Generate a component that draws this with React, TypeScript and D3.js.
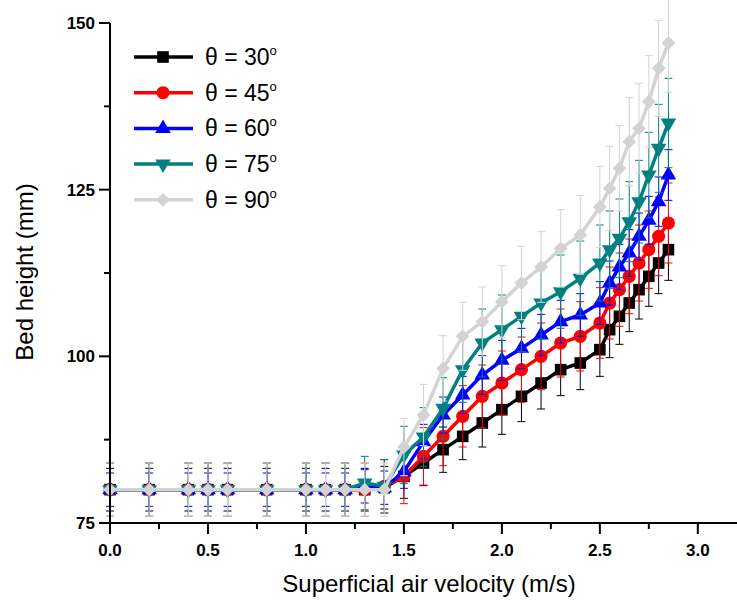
import { useEffect, useRef } from 'react'
import * as d3 from 'd3'

// superficial air velocity (m/s)
const velocity = [0, 0.2, 0.4, 0.5, 0.6, 0.8, 1.0, 1.1, 1.2, 1.3, 1.4, 1.5, 1.6, 1.7, 1.8, 1.9, 2.0, 2.1, 2.2, 2.3, 2.4, 2.5, 2.55, 2.6, 2.65, 2.7, 2.75, 2.8, 2.85]

// bed height (mm) per angle
const h30 = [80, 80, 80, 80, 80, 80, 80, 80, 80, 80, 80.3, 82, 84, 86, 88, 90, 92, 94, 96, 98, 99, 101, 104, 106, 108, 110, 112, 114, 116]
const h45 = [80, 80, 80, 80, 80, 80, 80, 80, 80, 80, 80.5, 82, 85, 88, 91, 94, 96, 98, 100, 102, 103, 105, 108, 110, 112, 114, 116, 118, 120]
const h60 = [80, 80, 80, 80, 80, 80, 80, 80, 80, 80.5, 80.3, 82.7, 87.2, 91.2, 94.2, 97.2, 99.4, 101.2, 103.2, 105.2, 106.2, 108, 111, 113.4, 115.5, 118, 120.4, 123.2, 127.2]
const h75 = [80, 80, 80, 80, 80, 80, 80, 80, 80, 81, 80.5, 85.2, 87.9, 92.2, 98, 102, 104, 106, 108, 109.7, 111.7, 114, 116, 117.7, 120.2, 123.2, 127.2, 131.2, 135]
const h90 = [80, 80, 80, 80, 80, 80, 80, 80, 80, 80, 80, 86.4, 91.2, 98.2, 103, 105.2, 108.2, 111, 113.4, 116.2, 118.2, 122.4, 125.2, 128.2, 132.2, 134.2, 138.2, 143.2, 147]

// error bar half-lengths (mm)
const e30 = [3.2, 3.2, 3.2, 3.2, 3.2, 3.2, 3.2, 3.2, 3.2, 3.2, 3.2, 3.3, 3.4, 3.4, 3.5, 3.6, 3.7, 3.8, 3.9, 3.9, 4.0, 4.0, 4.2, 4.2, 4.3, 4.4, 4.5, 4.6, 4.6]
const e45 = [4, 4, 4, 4, 4, 4, 4, 4, 4, 4, 4, 4.1, 4.3, 4.4, 4.6, 4.7, 4.8, 4.9, 5.0, 5.1, 5.2, 5.3, 5.4, 5.5, 5.6, 5.7, 5.8, 5.9, 6.0]
const e60 = [2.5, 2.5, 2.5, 2.5, 2.5, 2.5, 2.5, 2.5, 2.5, 2.5, 2.5, 2.5, 2.6, 2.7, 2.8, 2.9, 3.0, 3.0, 3.1, 3.2, 3.2, 3.2, 3.3, 3.4, 3.5, 3.5, 3.6, 3.7, 3.8]
const e75 = [4, 4, 4, 4, 4, 4, 4, 4, 4, 4, 4, 4.3, 4.4, 4.6, 4.9, 5.1, 5.2, 5.3, 5.4, 5.5, 5.6, 5.7, 5.8, 5.9, 6.0, 6.2, 6.4, 6.6, 6.7]
const e90 = [4, 4, 4, 4, 4, 4, 4, 4, 4, 4, 4, 4.3, 4.6, 4.9, 5.1, 5.2, 5.4, 5.5, 5.3, 5.8, 5.9, 6.1, 6.3, 6.4, 6.6, 6.7, 6.9, 7.2, 7.4]

const labels = ['30', '45', '60', '75', '90']
const colors = ['#000000', '#ff0000', '#0000ff', '#008080', '#d3d3d3']
const shapes = ['square', 'circle', 'triangle', 'triangleDown', 'diamond']
const heights = [h30, h45, h60, h75, h90]
const errors = [e30, e45, e60, e75, e90]

const xTicks = [0, 0.5, 1, 1.5, 2, 2.5, 3]
const yTicks = [75, 100, 125, 150]

function symbolPath(shape: string) {
  if (shape === 'square') return d3.symbol(d3.symbolSquare, 135)()
  if (shape === 'circle') return d3.symbol(d3.symbolCircle, 135)()
  if (shape === 'diamond') return d3.symbol(d3.symbolSquare, 95)()
  return d3.symbol(d3.symbolTriangle, 105)()
}
function symbolRotate(shape: string) {
  if (shape === 'triangleDown') return 180
  if (shape === 'diamond') return 45
  return 0
}

export default function App() {
  const ref = useRef<SVGSVGElement>(null)

  useEffect(() => {
    const svg = d3.select(ref.current)
    svg.selectAll('*').remove()

    const x = d3.scaleLinear().domain([0, 3.2]).range([110, 737])
    const y = d3.scaleLinear().domain([75, 150]).range([523, 23])
    const font = 'Arial, "Liberation Sans", sans-serif'

    // series: error bars, line, markers (30 first, 90 on top)
    heights.forEach((vals, si) => {
      const c = colors[si]
      const g = svg.append('g')
      const pts = velocity.map((v, i) => ({ v, h: vals[i], e: errors[si][i] }))

      const eb = g.selectAll('g.eb').data(pts).join('g').attr('class', 'eb')
      eb.append('line')
        .attr('x1', (d) => x(d.v)).attr('x2', (d) => x(d.v))
        .attr('y1', (d) => y(d.h + d.e)).attr('y2', (d) => y(d.h - d.e))
        .attr('stroke', c).attr('stroke-width', 1)
      ;[1, -1].forEach((s) => {
        eb.append('line')
          .attr('x1', (d) => x(d.v) - 4).attr('x2', (d) => x(d.v) + 4)
          .attr('y1', (d) => y(d.h + s * d.e)).attr('y2', (d) => y(d.h + s * d.e))
          .attr('stroke', c).attr('stroke-width', 1)
      })

      const line = d3.line<{ v: number; h: number }>().x((d) => x(d.v)).y((d) => y(d.h))
      g.append('path').datum(pts).attr('d', line).attr('fill', 'none').attr('stroke', c).attr('stroke-width', 3.5)

      g.selectAll('path.m').data(pts).join('path').attr('class', 'm')
        .attr('d', symbolPath(shapes[si]))
        .attr('transform', (d) => `translate(${x(d.v)},${y(d.h)}) rotate(${symbolRotate(shapes[si])})`)
        .attr('fill', c)
    })

    // axes
    const xAxis = svg.append('g').attr('transform', 'translate(0,523)')
    xAxis.append('line').attr('x1', 110).attr('x2', 737).attr('stroke', '#000').attr('stroke-width', 2)
    d3.range(0, 3.21, 0.25).forEach((t) => {
      const major = Math.abs(t * 2 - Math.round(t * 2)) < 1e-6
      xAxis.append('line').attr('x1', x(t)).attr('x2', x(t)).attr('y1', 0).attr('y2', major ? 11 : 6)
        .attr('stroke', '#000').attr('stroke-width', 2)
    })
    xAxis.selectAll('text').data(xTicks).join('text')
      .attr('x', (d) => x(d)).attr('y', 33).attr('text-anchor', 'middle')
      .attr('font-family', font).attr('font-weight', 'bold').attr('font-size', 17)
      .text((d) => d.toFixed(1))

    const yAxis = svg.append('g').attr('transform', 'translate(110,0)')
    yAxis.append('line').attr('y1', 23).attr('y2', 524).attr('stroke', '#000').attr('stroke-width', 2)
    d3.range(75, 150.1, 12.5).forEach((t) => {
      const major = t % 25 === 0
      yAxis.append('line').attr('x1', 0).attr('x2', major ? -11 : -6).attr('y1', y(t)).attr('y2', y(t))
        .attr('stroke', '#000').attr('stroke-width', 2)
    })
    yAxis.selectAll('text').data(yTicks).join('text')
      .attr('x', -15).attr('y', (d) => y(d)).attr('dy', '0.35em').attr('text-anchor', 'end')
      .attr('font-family', font).attr('font-weight', 'bold').attr('font-size', 17)
      .text((d) => d)

    svg.append('text').attr('x', 429).attr('y', 592).attr('text-anchor', 'middle')
      .attr('font-family', font).attr('font-size', 24).text('Superficial air velocity (m/s)')
    svg.append('text').attr('transform', 'translate(33,272) rotate(-90)').attr('text-anchor', 'middle')
      .attr('font-family', font).attr('font-size', 24).text('Bed height (mm)')

    // legend
    const lg = svg.append('g')
    labels.forEach((lab, i) => {
      const ly = 57 + i * 35.7
      lg.append('line').attr('x1', 134).attr('x2', 193).attr('y1', ly).attr('y2', ly)
        .attr('stroke', colors[i]).attr('stroke-width', 3.5)
      lg.append('path').attr('d', symbolPath(shapes[i]))
        .attr('transform', `translate(163,${ly}) rotate(${symbolRotate(shapes[i])})`).attr('fill', colors[i])
      const t = lg.append('text').attr('x', 205).attr('y', ly + 8)
        .attr('font-family', font).attr('font-size', 23)
      t.append('tspan').text(`θ = ${lab}`)
      t.append('tspan').attr('dy', -10).attr('font-size', 13).text('o')
    })
  }, [])

  return <svg ref={ref} width={737} height={600} style={{ position: 'absolute', left: 0, top: 0 }} />
}
